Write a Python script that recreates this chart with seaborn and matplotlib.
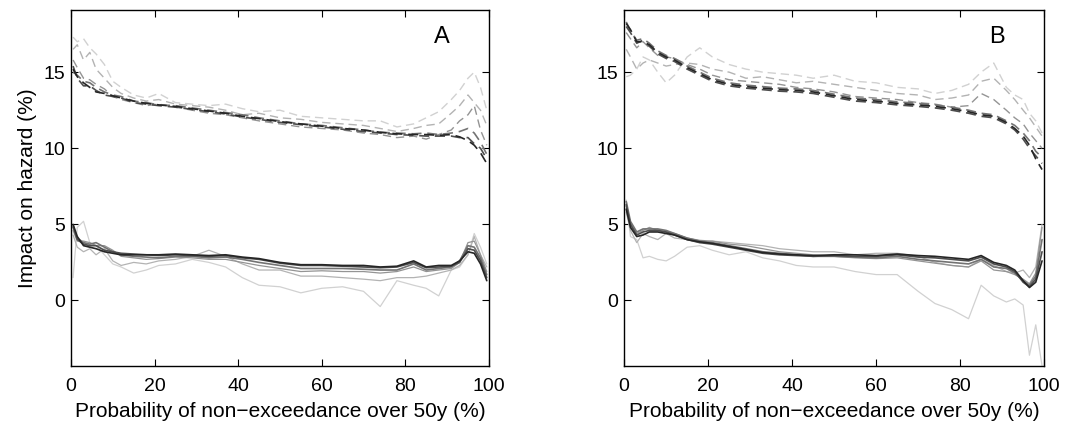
import numpy as np
import pandas as pd
import matplotlib
matplotlib.use("Agg")
import matplotlib.pyplot as plt
import seaborn as sns

# x positions (probability of non-exceedance, %)
prob = [0.5, 1.5, 3, 4.5, 6, 8, 10, 12, 15, 18, 21, 25, 29, 33, 37, 41, 45,
        50, 55, 60, 65, 70, 74, 78, 82, 85, 88, 91, 93, 95, 96.5, 98, 99.5]

# grey level of each run, light -> dark (drawn in this order)
shades = ["0.82", "0.70", "0.58", "0.45", "0.30", "0.15"]

# panel A, solid runs (light -> dark)
a_solid = [
    [1.5, 4.8, 5.2, 3.8, 3.6, 3.0, 2.4, 2.2, 1.8, 2.0, 2.3, 2.4, 2.7, 2.5, 2.2, 1.5, 1.0,
     0.9, 0.5, 0.8, 0.9, 0.6, -0.4, 1.3, 1.0, 0.8, 0.3, 2.0, 2.2, 3.0, 4.4, 3.5, 2.4],
    [4.3, 3.5, 3.2, 3.4, 3.0, 3.4, 2.6, 2.3, 2.5, 2.4, 2.6, 2.7, 2.9, 3.3, 2.9, 2.4, 2.0,
     2.0, 1.6, 1.6, 1.5, 1.4, 1.3, 1.5, 1.5, 1.6, 1.8, 2.0, 2.3, 3.0, 4.2, 3.0, 2.2],
    [4.6, 3.9, 3.9, 3.8, 3.6, 3.6, 3.3, 2.9, 2.8, 2.7, 2.75, 2.85, 2.8, 2.7, 2.7, 2.5, 2.3,
     2.1, 1.9, 1.95, 1.9, 1.9, 1.8, 1.9, 2.2, 1.9, 2.0, 2.1, 2.5, 3.8, 3.9, 3.0, 1.9],
    [4.8, 4.1, 3.8, 3.7, 3.8, 3.5, 3.2, 3.0, 2.9, 2.85, 2.8, 2.9, 2.9, 2.8, 2.85, 2.7, 2.5,
     2.3, 2.1, 2.1, 2.1, 2.05, 2.0, 2.0, 2.4, 2.0, 2.1, 2.2, 2.6, 3.6, 3.5, 2.8, 1.7],
    [4.9, 4.0, 3.7, 3.6, 3.6, 3.3, 3.2, 3.1, 3.05, 3.0, 2.95, 3.0, 2.95, 2.9, 2.95, 2.8, 2.7,
     2.45, 2.3, 2.3, 2.25, 2.2, 2.15, 2.2, 2.5, 2.15, 2.2, 2.25, 2.5, 3.4, 3.3, 2.6, 1.5],
    [5.0, 4.2, 3.6, 3.5, 3.4, 3.2, 3.1, 3.0, 3.0, 3.0, 3.0, 3.05, 3.0, 2.95, 3.0, 2.85, 2.75,
     2.5, 2.35, 2.35, 2.3, 2.3, 2.2, 2.25, 2.6, 2.2, 2.3, 2.3, 2.6, 3.2, 3.1, 2.4, 1.3],
]

# panel A, dashed runs (light -> dark)
a_dashed = [
    [17.3, 17.0, 17.2, 16.6, 16.2, 15.5, 14.4, 14.0, 13.5, 13.3, 13.6, 13.0, 12.9, 12.8, 12.9, 12.6, 12.4,
     12.5, 12.1, 12.0, 11.9, 11.8, 11.8, 11.4, 11.6, 12.0, 12.4, 13.2, 13.8, 14.6, 15.0, 14.0, 12.5],
    [16.5, 16.8, 15.8, 16.3, 15.2, 14.6, 14.0, 13.6, 13.3, 13.1, 13.2, 12.9, 12.8, 12.7, 12.5, 12.2, 12.3,
     12.0, 11.9, 11.7, 11.6, 11.5, 11.3, 11.1, 11.3, 11.5, 11.6, 12.3, 12.8, 13.5, 13.0, 12.5, 11.5],
    [15.8, 15.3, 14.6, 14.5, 14.2, 13.9, 13.4, 13.2, 13.0, 12.8, 12.9, 12.7, 12.5, 12.3, 12.2, 12.0, 11.8,
     11.6, 11.4, 11.3, 11.2, 11.0, 10.9, 10.7, 10.8, 10.6, 10.9, 11.2, 11.8, 12.2, 12.8, 11.2, 10.2],
    [15.0, 14.8, 14.4, 14.3, 14.0, 13.7, 13.5, 13.4, 13.1, 13.0, 12.85, 12.8, 12.65, 12.5, 12.35, 12.2, 12.0,
     11.8, 11.6, 11.5, 11.35, 11.2, 11.05, 11.0, 10.95, 11.0, 10.9, 11.0, 11.1, 11.3, 11.0, 10.4, 9.6],
    [15.4, 14.6, 14.1, 14.1, 13.8, 13.5, 13.4, 13.3, 13.0, 12.9, 12.8, 12.7, 12.55, 12.4, 12.25, 12.05, 11.9,
     11.7, 11.55, 11.4, 11.25, 11.1, 11.0, 10.9, 10.85, 10.8, 10.8, 10.8, 10.7, 10.7, 10.3, 10.0, 9.3],
    [15.2, 14.7, 14.3, 14.0, 13.7, 13.6, 13.45, 13.3, 13.1, 12.95, 12.85, 12.75, 12.6, 12.45, 12.3, 12.1, 11.95,
     11.75, 11.6, 11.45, 11.3, 11.2, 11.05, 10.95, 10.9, 10.9, 10.85, 10.9, 10.75, 10.5, 10.2, 9.7, 9.0],
]

# panel B, solid runs (light -> dark)
b_solid = [
    [6.6, 4.2, 4.0, 2.8, 2.9, 2.7, 2.6, 2.9, 3.5, 3.6, 3.3, 3.0, 3.2, 2.8, 2.6, 2.3, 2.2,
     2.2, 1.9, 1.7, 1.7, 0.6, -0.2, -0.6, -1.2, 1.0, 0.3, -0.1, 0.1, -0.3, -3.6, -1.6, -4.3],
    [5.8, 4.6, 3.8, 4.4, 4.2, 4.0, 4.4, 4.1, 4.0, 3.8, 3.9, 3.8, 3.7, 3.6, 3.4, 3.3, 3.2,
     3.2, 3.0, 3.1, 3.1, 2.9, 2.5, 2.3, 2.2, 2.7, 2.3, 1.9, 1.8, 2.0, 1.5, 2.2, 5.0],
    [6.2, 5.0, 4.4, 4.6, 4.8, 4.6, 4.5, 4.4, 4.1, 3.95, 3.9, 3.7, 3.6, 3.4, 3.2, 3.1, 3.0,
     2.9, 2.8, 2.75, 2.8, 2.6, 2.45, 2.3, 2.2, 2.6, 2.0, 1.9, 1.7, 1.4, 1.1, 1.8, 4.8],
    [6.5, 5.2, 4.5, 4.7, 4.7, 4.7, 4.6, 4.4, 4.1, 3.9, 3.8, 3.6, 3.4, 3.2, 3.1, 3.0, 2.9,
     2.9, 2.85, 2.8, 2.9, 2.7, 2.6, 2.5, 2.4, 2.7, 2.2, 2.1, 1.8, 1.3, 1.0, 1.6, 4.0],
    [6.3, 5.0, 4.3, 4.5, 4.6, 4.6, 4.5, 4.3, 4.0, 3.8, 3.7, 3.5, 3.3, 3.1, 3.0, 2.95, 2.9,
     2.95, 2.9, 2.9, 3.0, 2.85, 2.8, 2.7, 2.6, 2.85, 2.4, 2.2, 1.9, 1.2, 0.9, 1.4, 3.2],
    [6.0, 4.8, 4.2, 4.3, 4.5, 4.5, 4.4, 4.3, 4.0, 3.85, 3.75, 3.55, 3.35, 3.15, 3.05, 3.0, 2.95,
     3.0, 3.0, 2.95, 3.05, 2.95, 2.9, 2.8, 2.7, 2.95, 2.5, 2.3, 2.0, 1.3, 0.85, 1.2, 2.6],
]

# panel B, dashed runs (light -> dark)
b_dashed = [
    [14.7, 14.8, 15.2, 16.0, 15.8, 15.0, 14.3, 14.8, 16.0, 16.6, 16.0, 15.5, 15.2, 15.0, 14.9, 14.8, 14.6,
     14.8, 14.4, 14.3, 14.0, 13.9, 13.6, 13.8, 14.2, 15.0, 15.6, 14.0, 13.5, 13.2, 12.3, 11.8, 11.0],
    [16.5, 16.0, 15.2, 15.6, 15.8, 15.6, 15.4, 15.5, 15.6, 15.5, 15.2, 15.0, 14.6, 14.7, 14.5, 14.3, 14.4,
     14.2, 14.0, 13.8, 13.6, 13.5, 13.2, 13.3, 13.5, 14.4, 14.6, 13.8, 13.2, 12.5, 12.0, 11.4, 10.8],
    [17.6, 17.2, 16.6, 17.0, 16.6, 16.1, 16.0, 15.9, 15.5, 15.2, 14.8, 14.5, 14.4, 14.3, 14.2, 14.0, 13.9,
     13.7, 13.4, 13.3, 13.2, 13.0, 12.9, 12.7, 12.8, 13.6, 13.2, 12.5, 12.0, 11.6, 11.0, 10.5, 10.0],
    [18.3, 17.7, 17.1, 17.2, 16.9, 16.4, 16.1, 15.9, 15.4, 15.0, 14.6, 14.3, 14.15, 14.05, 13.95, 13.9, 13.8,
     13.55, 13.3, 13.2, 13.05, 12.95, 12.85, 12.7, 12.5, 12.3, 12.2, 11.8, 11.5, 11.0, 10.5, 9.8, 9.4],
    [18.0, 17.6, 16.9, 17.1, 16.7, 16.2, 15.9, 15.7, 15.2, 14.8, 14.4, 14.1, 13.95, 13.85, 13.75, 13.7, 13.6,
     13.35, 13.1, 13.0, 12.85, 12.75, 12.65, 12.5, 12.3, 12.1, 12.0, 11.6, 11.2, 10.6, 10.0, 9.5, 9.0],
    [18.2, 17.8, 17.0, 17.0, 16.8, 16.3, 16.0, 15.8, 15.3, 14.9, 14.5, 14.2, 14.05, 13.95, 13.85, 13.8, 13.7,
     13.45, 13.2, 13.1, 12.95, 12.85, 12.75, 12.6, 12.4, 12.2, 12.1, 11.7, 11.3, 10.8, 10.2, 9.3, 8.6],
]

panel_labels = ["A", "B"]
xlabel = "Probability of non\u2212exceedance over 50y (%)"
ylabel = "Impact on hazard (%)"

sns.set_theme(style="ticks")
plt.rcParams["font.family"] = ["Liberation Sans", "DejaVu Sans"]
plt.rcParams["xtick.direction"] = "in"
plt.rcParams["ytick.direction"] = "in"
plt.rcParams["text.color"] = "black"
plt.rcParams["axes.labelcolor"] = "black"

fig = plt.figure(figsize=(10.66, 4.24), dpi=100)
ax_a = fig.add_axes([0.0666, 0.137, 0.392, 0.840])
ax_b = fig.add_axes([0.5855, 0.137, 0.394, 0.840])

panels = [(ax_a, a_solid, a_dashed), (ax_b, b_solid, b_dashed)]

for (ax, solid, dashed), lab in zip(panels, panel_labels):
    # dashed runs first, light ones under dark ones
    for shade, vals in zip(shades, dashed):
        lw = 1.0 if float(shade) > 0.5 else 1.2
        sns.lineplot(x=prob, y=vals, color=shade, lw=lw, ax=ax,
                     linestyle=(0, (6, 3.5)))
    for shade, vals in zip(shades, solid):
        lw = 0.9 if float(shade) > 0.5 else 1.2
        sns.lineplot(x=prob, y=vals, color=shade, lw=lw, ax=ax)

    ax.set_xlim(0, 100)
    ax.set_ylim(-4.3, 19.1)
    ax.set_xticks([0, 20, 40, 60, 80, 100])
    ax.set_yticks([0, 5, 10, 15])
    ax.tick_params(top=True, right=True, labelsize=14, length=5, width=0.8,
                   color="black", labelcolor="black")
    ax.tick_params(axis="x", pad=9)
    ax.tick_params(axis="y", pad=4)
    for sp in ax.spines.values():
        sp.set_visible(True)
        sp.set_color("black")
        sp.set_linewidth(1.0)
    ax.set_xlabel(xlabel, fontsize=15, labelpad=5, color="black")
    ax.text(88.8, 17.3, lab, fontsize=17, ha="center", va="center", color="black")

ax_a.set_ylabel(ylabel, fontsize=15, labelpad=5, color="black")
ax_b.set_ylabel("")

fig.savefig("out.png", dpi=100)
